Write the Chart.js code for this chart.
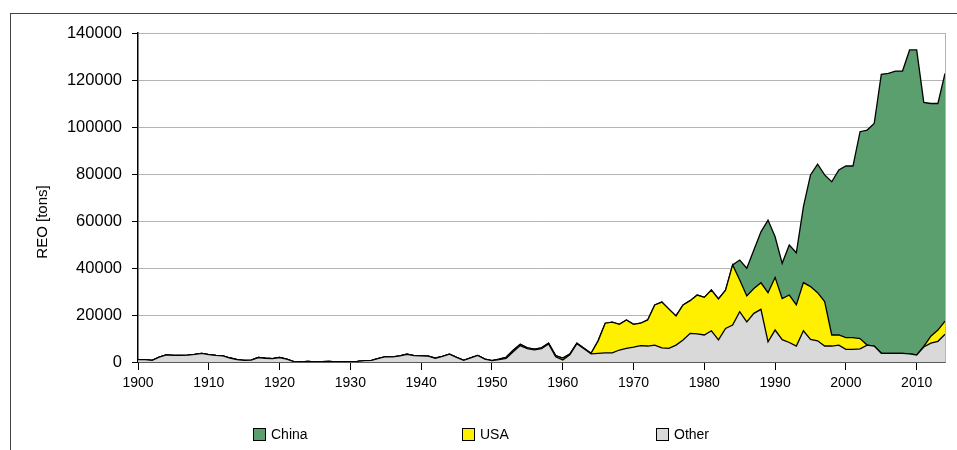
<!DOCTYPE html>
<html>
<head>
<meta charset="utf-8">
<script src="https://cdn.jsdelivr.net/npm/chart.js@4.4.1/dist/chart.umd.min.js"></script>
<style>
    body { margin: 0; background: #fff; }
    #wrap { position: relative; width: 957px; height: 450px; overflow: hidden; font-family: 'Liberation Sans', Arial, sans-serif; }
    #frame { position: absolute; left: 10px; top: 13px; width: 1000px; height: 500px; border-top: 1.5px solid #444; border-left: 1.5px solid #444; }
    canvas { position: absolute; left: 0; top: 0; }
    #ytitle { position: absolute; left: -8px; top: 212px; width: 100px; height: 20px; line-height: 20px; text-align: center;
              transform: rotate(-90deg); transform-origin: 50px 10px; font-size: 15px; font-weight: normal; color: #000; white-space: nowrap; }
    #legend .item { position: absolute; top: 426px; display: flex; align-items: center; font-size: 14px; color: #000; }
    #legend .box { width: 11px; height: 11px; border: 1px solid #000; margin-right: 5px; }
</style>
</head>
<body>
<div id="wrap">
    <div id="frame"></div>
    <canvas id="reoChart" width="957" height="450"></canvas>
    <div id="ytitle">REO [tons]</div>
    <div id="legend"></div>
</div>
<script>
// Rare earth oxide production by country, tons per year
const years = [
    1900, 1901, 1902, 1903, 1904, 1905, 1906, 1907, 1908, 1909,
    1910, 1911, 1912, 1913, 1914, 1915, 1916, 1917, 1918, 1919,
    1920, 1921, 1922, 1923, 1924, 1925, 1926, 1927, 1928, 1929,
    1930, 1931, 1932, 1933, 1934, 1935, 1936, 1937, 1938, 1939,
    1940, 1941, 1942, 1943, 1944, 1945, 1946, 1947, 1948, 1949,
    1950, 1951, 1952, 1953, 1954, 1955, 1956, 1957, 1958, 1959,
    1960, 1961, 1962, 1963, 1964, 1965, 1966, 1967, 1968, 1969,
    1970, 1971, 1972, 1973, 1974, 1975, 1976, 1977, 1978, 1979,
    1980, 1981, 1982, 1983, 1984, 1985, 1986, 1987, 1988, 1989,
    1990, 1991, 1992, 1993, 1994, 1995, 1996, 1997, 1998, 1999,
    2000, 2001, 2002, 2003, 2004, 2005, 2006, 2007, 2008, 2009,
    2010, 2011, 2012, 2013, 2014
];

const otherValues = [
    1000, 1000, 700, 2100, 3000, 2800, 2800, 2900, 3200, 3700,
    3100, 2800, 2600, 1700, 1000, 700, 800, 1900, 1600, 1400,
    1900, 1200, 200, 0, 300, 0, 100, 300, 0, 100,
    100, 300, 600, 700, 1500, 2300, 2200, 2600, 3300, 2700,
    2600, 2500, 1600, 2400, 3300, 2000, 700, 1800, 2800, 1200,
    600, 1000, 1500, 4400, 7000, 5700, 5200, 5700, 7700, 2200,
    900, 3100, 7800, 5600, 3500, 3700, 3900, 3900, 5100, 5800,
    6300, 7000, 6800, 7200, 6000, 5800, 7200, 9400, 12200, 12000,
    11500, 13300, 9400, 14300, 15700, 21400, 17100, 20700, 22400, 8600,
    13600, 9500, 8300, 6800, 13300, 9600, 9000, 6800, 6800, 7200,
    5400, 5400, 5600, 7200, 6800, 3700, 3700, 3700, 3700, 3500,
    3000, 6400, 8000, 8800, 11800
];

const usaValues = [
    0, 0, 0, 0, 0, 0, 0, 0, 0, 0,
    0, 0, 0, 0, 0, 0, 0, 0, 0, 0,
    0, 0, 0, 0, 0, 0, 0, 0, 0, 0,
    0, 0, 0, 0, 0, 0, 0, 0, 0, 0,
    0, 0, 0, 0, 0, 0, 0, 0, 0, 0,
    0, 200, 500, 600, 500, 300, 300, 300, 300, 500,
    800, 300, 200, 200, 200, 5300, 12600, 13100, 10900, 12100,
    9700, 9500, 11100, 17100, 19500, 16700, 12400, 14900, 13900, 16500,
    16000, 17300, 17400, 16300, 25600, 13500, 11000, 10600, 11300, 20900,
    22400, 17500, 20200, 17500, 20500, 22500, 20500, 18900, 4700, 4300,
    5000, 5000, 4400, 0, 0, 0, 0, 0, 0, 0,
    0, 200, 3000, 4800, 5600
];

const chinaValues = [
    0, 0, 0, 0, 0, 0, 0, 0, 0, 0,
    0, 0, 0, 0, 0, 0, 0, 0, 0, 0,
    0, 0, 0, 0, 0, 0, 0, 0, 0, 0,
    0, 0, 0, 0, 0, 0, 0, 0, 0, 0,
    0, 0, 0, 0, 0, 0, 0, 0, 0, 0,
    0, 0, 0, 0, 0, 0, 0, 0, 0, 0,
    0, 0, 0, 0, 0, 0, 0, 0, 0, 0,
    0, 0, 0, 0, 0, 0, 0, 0, 0, 0,
    0, 0, 0, 0, 0, 8500, 11800, 16400, 21700, 30900,
    17300, 15000, 21300, 22200, 32300, 47500, 54700, 53900, 65200, 70200,
    73000, 73000, 88000, 91500, 94700, 118700, 119100, 120100, 120100, 129300,
    129800, 103900, 99000, 96400, 105400
];

const xTickValues = [1900, 1910, 1920, 1930, 1940, 1950, 1960, 1970, 1980, 1990, 2000, 2010];
const yTickValues = [0, 20000, 40000, 60000, 80000, 100000, 120000, 140000];

const seriesColors = {
    China: '#5c9f6f',
    USA: '#fff000',
    Other: '#d9d9d9'
};

// left edge of each legend entry, in legend order
const legendLeft = [253, 462, 656];

const fontFamily = "'Liberation Sans', Arial, sans-serif";

function toPoints(values) {
    return years.map((yr, i) => ({ x: yr, y: values[i] }));
}

function makeDataset(label, values, fill) {
    return {
        label: label,
        data: toPoints(values),
        fill: fill,
        backgroundColor: seriesColors[label],
        borderColor: '#000',
        borderWidth: 1.3,
        pointRadius: 0,
        tension: 0
    };
}

// Right edge of the plot area is a thin grey line
const plotBorder = {
    id: 'plotBorder',
    afterDatasetsDraw(chart) {
        const { ctx, chartArea } = chart;
        ctx.save();
        ctx.strokeStyle = '#b4b4b4';
        ctx.lineWidth = 1;
        ctx.beginPath();
        ctx.moveTo(chartArea.right + 0.5, chartArea.top);
        ctx.lineTo(chartArea.right + 0.5, chartArea.bottom);
        ctx.stroke();
        ctx.restore();
    }
};

const chart = new Chart(document.getElementById('reoChart'), {
    type: 'line',
    data: {
        datasets: [
            makeDataset('Other', otherValues, 'origin'),
            makeDataset('USA', usaValues, '-1'),
            makeDataset('China', chinaValues, '-1')
        ]
    },
    options: {
        responsive: false,
        animation: false,
        layout: {
            padding: { left: 0, right: 12, top: 33, bottom: 58 }
        },
        plugins: {
            legend: { display: false },
            tooltip: { enabled: false }
        },
        scales: {
            x: {
                type: 'linear',
                min: 1900,
                max: 2014,
                afterBuildTicks: (scale) => {
                    scale.ticks = xTickValues.map(v => ({ value: v }));
                },
                afterFit: (scale) => { scale.height = 30; },
                grid: {
                    drawOnChartArea: false,
                    drawTicks: true,
                    tickLength: 8,
                    tickColor: '#000'
                },
                border: { color: '#000', width: 1.5 },
                ticks: {
                    padding: 5,
                    color: '#000',
                    font: { family: fontFamily, size: 14 },
                    callback: (v) => String(v)
                }
            },
            y: {
                stacked: true,
                min: 0,
                max: 140000,
                afterBuildTicks: (scale) => {
                    scale.ticks = yTickValues.map(v => ({ value: v }));
                },
                afterFit: (scale) => { scale.width = 138; },
                grid: {
                    color: '#b4b4b4',
                    lineWidth: 1,
                    drawTicks: true,
                    tickLength: 6,
                    tickColor: '#000'
                },
                border: { color: '#000', width: 1.5 },
                ticks: {
                    padding: 10,
                    color: '#000',
                    font: { family: fontFamily, size: 16.5 },
                    callback: (v) => String(v)
                }
            }
        }
    },
    plugins: [plotBorder]
});

// Legend (China, USA, Other order like the original)
const legendEl = document.getElementById('legend');
legendEl.innerHTML = chart.data.datasets.slice().reverse().map((ds, i) => `
    <div class="item" style="left:${legendLeft[i]}px">
        <span class="box" style="background:${ds.backgroundColor}"></span>
        <span>${ds.label}</span>
    </div>
`).join('');
</script>
</body>
</html>
